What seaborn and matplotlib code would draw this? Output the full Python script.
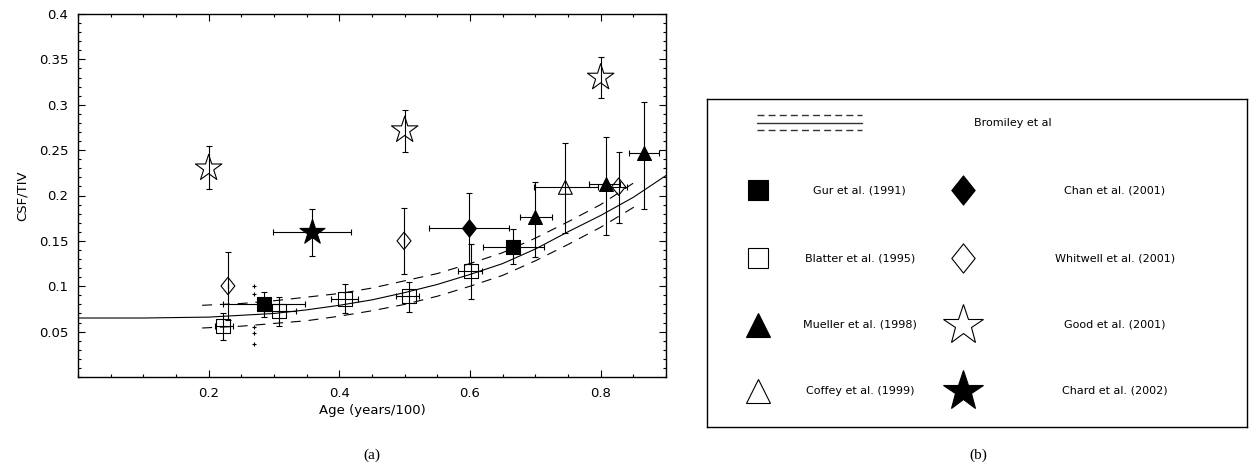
import numpy as np
import matplotlib
matplotlib.use("Agg")
import matplotlib.pyplot as plt
from matplotlib.ticker import FixedLocator, MultipleLocator
from matplotlib.path import Path
import seaborn as sns

# ---------------- data ----------------
fit_x = [0.0, 0.1, 0.2, 0.25, 0.3, 0.35, 0.4, 0.45, 0.5, 0.55, 0.6, 0.65, 0.7, 0.75, 0.8, 0.85, 0.9]
fit_y = [0.065, 0.065, 0.066, 0.068, 0.070, 0.074, 0.079, 0.085, 0.093, 0.102, 0.113, 0.125, 0.141, 0.160, 0.178, 0.198, 0.222]
band_x = [0.19, 0.25, 0.3, 0.35, 0.4, 0.45, 0.5, 0.55, 0.6, 0.65, 0.7, 0.75, 0.8, 0.855]
band_upper = [0.079, 0.081, 0.084, 0.088, 0.092, 0.098, 0.106, 0.114, 0.125, 0.137, 0.153, 0.171, 0.190, 0.216]
band_lower = [0.054, 0.056, 0.059, 0.062, 0.067, 0.073, 0.080, 0.089, 0.100, 0.112, 0.128, 0.146, 0.165, 0.189]

gur_x = [0.285, 0.666]
gur_y = [0.080, 0.1436]
gur_xlo = [0.222, 0.620]
gur_xhi = [0.347, 0.713]
gur_ylo = [0.0665, 0.124]
gur_yhi = [0.094, 0.163]

blatter_x = [0.222, 0.307, 0.408, 0.506, 0.601]
blatter_y = [0.056, 0.073, 0.0856, 0.089, 0.117]
blatter_xlo = [0.209, 0.285, 0.387, 0.486, 0.581]
blatter_xhi = [0.238, 0.334, 0.428, 0.522, 0.619]
blatter_ylo = [0.041, 0.056, 0.070, 0.072, 0.086]
blatter_yhi = [0.070, 0.0885, 0.102, 0.105, 0.147]

mueller_x = [0.699, 0.808, 0.866]
mueller_y = [0.176, 0.2127, 0.2465]
mueller_xlo = [0.677, 0.782, 0.844]
mueller_xhi = [0.726, 0.829, 0.889]
mueller_ylo = [0.1326, 0.157, 0.185]
mueller_yhi = [0.2145, 0.265, 0.303]

coffey_x = [0.746]
coffey_y = [0.209]
coffey_xlo = [0.698]
coffey_xhi = [0.796]
coffey_ylo = [0.159]
coffey_yhi = [0.2575]

chan_x = [0.598]
chan_y = [0.164]
chan_xlo = [0.538]
chan_xhi = [0.660]
chan_ylo = [0.124]
chan_yhi = [0.203]

whitwell_x = [0.2295, 0.499, 0.8275]
whitwell_y = [0.1003, 0.150, 0.2097]
whitwell_xlo = [0.2295, 0.499, 0.815]
whitwell_xhi = [0.2295, 0.499, 0.840]
whitwell_ylo = [0.063, 0.113, 0.170]
whitwell_yhi = [0.138, 0.1866, 0.248]

good_x = [0.2, 0.5, 0.8]
good_y = [0.230, 0.272, 0.330]
good_ylo = [0.207, 0.2476, 0.307]
good_yhi = [0.2545, 0.294, 0.353]

chard_x = [0.358]
chard_y = [0.160]
chard_xlo = [0.299]
chard_xhi = [0.418]
chard_ylo = [0.1337]
chard_yhi = [0.185]

extra_x = [0.269, 0.269, 0.269, 0.269, 0.269]
extra_y = [0.100, 0.092, 0.055, 0.048, 0.036]

x_ticks = [0.2, 0.4, 0.6, 0.8]
x_labels = ["0.2", "0.4", "0.6", "0.8"]
y_ticks = [0.05, 0.1, 0.15, 0.2, 0.25, 0.3, 0.35, 0.4]
y_labels = ["0.05", "0.1", "0.15", "0.2", "0.25", "0.3", "0.35", "0.4"]

legend_names = ["Gur et al. (1991)", "Blatter et al. (1995)", "Mueller et al. (1998)", "Coffey et al. (1999)",
                "Chan et al. (2001)", "Whitwell et al. (2001)", "Good et al. (2001)", "Chard et al. (2002)"]

# ---------------- style ----------------
sns.set_theme(style="ticks")
plt.rcParams["font.family"] = ["DejaVu Sans"]
plt.rcParams["text.color"] = "black"
plt.rcParams["axes.labelcolor"] = "black"

fig = plt.figure(figsize=(12.56, 4.68), dpi=100)
ax = fig.add_axes([78/1256, 1-377/468, 588/1256, 363/468])

LW = 0.8
diamond = Path([(0, 0.5), (0.4, 0), (0, -0.5), (-0.4, 0), (0, 0.5)],
               [Path.MOVETO, Path.LINETO, Path.LINETO, Path.LINETO, Path.CLOSEPOLY])

# fit lines
sns.lineplot(x=fit_x, y=fit_y, ax=ax, color="black", linewidth=LW, sort=False, zorder=2)
sns.lineplot(x=band_x, y=band_upper, ax=ax, color="black", linewidth=LW, sort=False,
             linestyle=(0, (9, 7)), zorder=2)
sns.lineplot(x=band_x, y=band_lower, ax=ax, color="black", linewidth=LW, sort=False,
             linestyle=(0, (9, 7)), zorder=2)


def err(xs, ys, xlo=None, xhi=None, ylo=None, yhi=None):
    xs = np.asarray(xs); ys = np.asarray(ys)
    xerr = None
    if xlo is not None:
        xerr = [xs - np.asarray(xlo), np.asarray(xhi) - xs]
    yerr = [ys - np.asarray(ylo), np.asarray(yhi) - ys]
    ax.errorbar(xs, ys, xerr=xerr, yerr=yerr, fmt="none", ecolor="black",
                elinewidth=LW, capsize=2.5, capthick=LW, zorder=3)


err(gur_x, gur_y, gur_xlo, gur_xhi, gur_ylo, gur_yhi)
err(blatter_x, blatter_y, blatter_xlo, blatter_xhi, blatter_ylo, blatter_yhi)
err(mueller_x, mueller_y, mueller_xlo, mueller_xhi, mueller_ylo, mueller_yhi)
err(coffey_x, coffey_y, coffey_xlo, coffey_xhi, coffey_ylo, coffey_yhi)
err(chan_x, chan_y, chan_xlo, chan_xhi, chan_ylo, chan_yhi)
err(whitwell_x, whitwell_y, whitwell_xlo, whitwell_xhi, whitwell_ylo, whitwell_yhi)
err(good_x, good_y, None, None, good_ylo, good_yhi)
err(chard_x, chard_y, chard_xlo, chard_xhi, chard_ylo, chard_yhi)


def pts(xs, ys, marker, size, filled):
    kw = dict(x=xs, y=ys, ax=ax, marker=marker, s=size**2, linewidth=LW,
              edgecolor="black", zorder=4, legend=False)
    if filled:
        sns.scatterplot(color="black", **kw)
    else:
        sns.scatterplot(facecolors="none", **kw)


pts(gur_x, gur_y, "s", 10, True)
pts(blatter_x, blatter_y, "s", 10, False)
pts(mueller_x, mueller_y, "^", 10, True)
pts(coffey_x, coffey_y, "^", 10, False)
pts(chan_x, chan_y, diamond, 12.5, True)
pts(whitwell_x, whitwell_y, diamond, 12.5, False)
pts(good_x, good_y, "*", 20, False)
pts(chard_x, chard_y, "*", 19, True)
sns.scatterplot(x=extra_x, y=extra_y, ax=ax, marker="+", s=9, color="black", linewidth=0.8,
                zorder=4, legend=False)

ax.set_xlim(0, 0.9)
ax.set_ylim(0, 0.4)
ax.xaxis.set_major_locator(FixedLocator(x_ticks))
ax.set_xticklabels(x_labels)
ax.xaxis.set_minor_locator(MultipleLocator(0.05))
ax.yaxis.set_major_locator(FixedLocator(y_ticks))
ax.set_yticklabels(y_labels)
ax.yaxis.set_minor_locator(MultipleLocator(0.01))
ax.tick_params(which="both", direction="in", top=True, right=True, colors="black",
               labelcolor="black", labelsize=9.5, width=0.8)
ax.tick_params(which="major", length=5, pad=7)
ax.tick_params(which="minor", length=2.5)
for s in ax.spines.values():
    s.set_visible(True)
    s.set_color("black")
    s.set_linewidth(1.0)
ax.set_xlabel("Age (years/100)", fontsize=9.5, labelpad=3, color="black")
ax.set_ylabel("CSF/TIV", fontsize=9.5, labelpad=7, color="black")

# ---------------- legend panel ----------------
lx = fig.add_axes([707/1256, 1-427/468, 540/1256, 328/468])
lx.set_xlim(0, 1)
lx.set_ylim(0, 1)
lx.set_xticks([])
lx.set_yticks([])
for s in lx.spines.values():
    s.set_visible(True)
    s.set_color("black")
    s.set_linewidth(1.0)

lx.plot([0.093, 0.287], [0.951, 0.951], color="#333333", lw=1.0, ls=(0, (5, 3)))
lx.plot([0.093, 0.287], [0.928, 0.928], color="#333333", lw=1.0)
lx.plot([0.093, 0.287], [0.907, 0.907], color="#333333", lw=1.0, ls=(0, (5, 3)))
lx.text(0.567, 0.928, "Bromiley et al", ha="center", va="center", fontsize=8, color="black")

rows = [0.722, 0.514, 0.311, 0.110]
left_specs = [("s", 15, True), ("s", 15, False), ("^", 17, True), ("^", 17, False)]
right_specs = [(diamond, 21, True), (diamond, 21, False), ("*", 30, False), ("*", 30, True)]
for i, ry in enumerate(rows):
    m, sz, f = left_specs[i]
    lx.plot([0.094], [ry], marker=m, markersize=sz, markeredgewidth=LW,
            markeredgecolor="black", markerfacecolor="black" if f else "white", ls="none")
    lx.text(0.283, ry, legend_names[i], ha="center", va="center", fontsize=8, color="black")
    m, sz, f = right_specs[i]
    lx.plot([0.4735], [ry], marker=m, markersize=sz, markeredgewidth=LW,
            markeredgecolor="black", markerfacecolor="black" if f else "white", ls="none")
    lx.text(0.7556, ry, legend_names[i + 4], ha="center", va="center", fontsize=8, color="black")

fig.text(372/1256, 1-455/468, "(a)", ha="center", va="center", fontsize=11, color="black",
         family=["Liberation Serif", "DejaVu Serif"])
fig.text(978/1256, 1-455/468, "(b)", ha="center", va="center", fontsize=11, color="black",
         family=["Liberation Serif", "DejaVu Serif"])

fig.savefig("out.png", dpi=100, facecolor="white")
